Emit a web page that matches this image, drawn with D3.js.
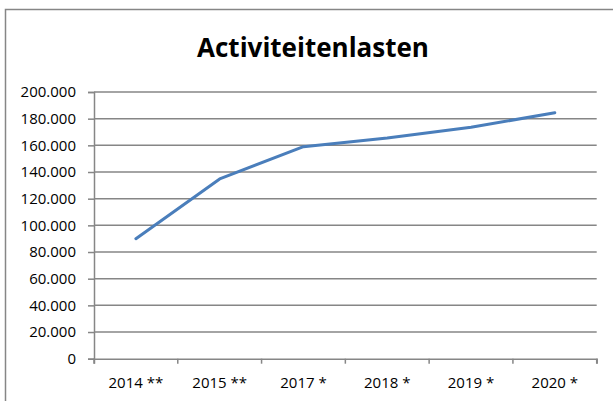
<!DOCTYPE html>
<html>
<head>
	<script src="https://d3js.org/d3.v7.min.js"></script>
	<style>
		body { margin: 0; background: #fff; }
		text { font-family: "Open Sans", Arial, sans-serif; fill: #000; }
		.tick text { font-size: 15px; }
		#title { font-size: 26px; font-weight: bold; }
	</style>
</head>
<body>
	<div id="chart"></div>
	<script>
		// Data
		var years = ["2014 **", "2015 **", "2017 *", "2018 *", "2019 *", "2020 *"];
		var lasten = [90000, 134800, 159000, 165500, 173500, 184500];
		var yTicks = [0, 20000, 40000, 60000, 80000, 100000, 120000, 140000, 160000, 180000, 200000];

		var width = 613, height = 401;
		var margin = {top: 92, right: 16, bottom: 42, left: 94};
		var innerW = width - margin.left - margin.right - 0.3,
			innerH = height - margin.top - margin.bottom - 0.3;

		var svg = d3.select("#chart").append("svg")
			.attr("width", width)
			.attr("height", height);

		// outer chart frame (right and bottom fall outside the picture)
		svg.append("rect")
			.attr("x", 5.5).attr("y", 9.5)
			.attr("width", 640).attr("height", 420)
			.attr("fill", "none")
			.attr("stroke", "#868686")
			.attr("stroke-width", 1.5);

		svg.append("text")
			.attr("id", "title")
			.attr("x", 313)
			.attr("y", 57)
			.attr("text-anchor", "middle")
			.text("Activiteitenlasten");

		var g = svg.append("g")
			.attr("transform", "translate(" + margin.left + "," + margin.top + ")");

		var x = d3.scaleBand()
			.domain(years)
			.range([0, innerW]);

		var y = d3.scaleLinear()
			.domain([0, 200000])
			.range([innerH, 0]);

		var fmt = function (d) {
			return d === 0 ? "0" : d3.format(",")(d).replace(/,/g, ".");
		};

		// gridlines
		g.append("g")
			.selectAll("line")
			.data(yTicks.slice(1))
			.enter().append("line")
			.attr("x1", 0).attr("x2", innerW)
			.attr("y1", function (d) { return y(d); })
			.attr("y2", function (d) { return y(d); })
			.attr("stroke", "#868686")
			.attr("stroke-width", 1.5);

		var yAxis = g.append("g")
			.call(d3.axisLeft(y).tickValues(yTicks).tickFormat(fmt).tickSize(6).tickPadding(12));

		var xAxis = g.append("g")
			.attr("transform", "translate(0," + innerH + ")")
			.call(d3.axisBottom(x).tickSize(5).tickPadding(14));

		// ticks between the categories, like the original
		xAxis.selectAll(".tick line").remove();
		xAxis.append("g")
			.selectAll("line")
			.data(years.map(function (d) { return x(d); }).concat([innerW]))
			.enter().append("line")
			.attr("x1", function (d) { return d; })
			.attr("x2", function (d) { return d; })
			.attr("y1", 0).attr("y2", 5)
			.attr("stroke", "#868686")
			.attr("stroke-width", 1.5);

		[yAxis, xAxis].forEach(function (a) {
			a.select(".domain").attr("stroke", "#868686").attr("stroke-width", 1.5);
			a.selectAll(".tick line").attr("stroke", "#868686").attr("stroke-width", 1.5);
			a.selectAll(".tick text").attr("fill", "#000");
		});

		var line = d3.line()
			.x(function (d, i) { return x(years[i]) + x.bandwidth() / 2; })
			.y(function (d) { return y(d); });

		g.append("path")
			.datum(lasten)
			.attr("d", line)
			.attr("fill", "none")
			.attr("stroke", "#4a7ebb")
			.attr("stroke-width", 3)
			.attr("stroke-linejoin", "round")
			.attr("stroke-linecap", "round");
	</script>
</body>
</html>
